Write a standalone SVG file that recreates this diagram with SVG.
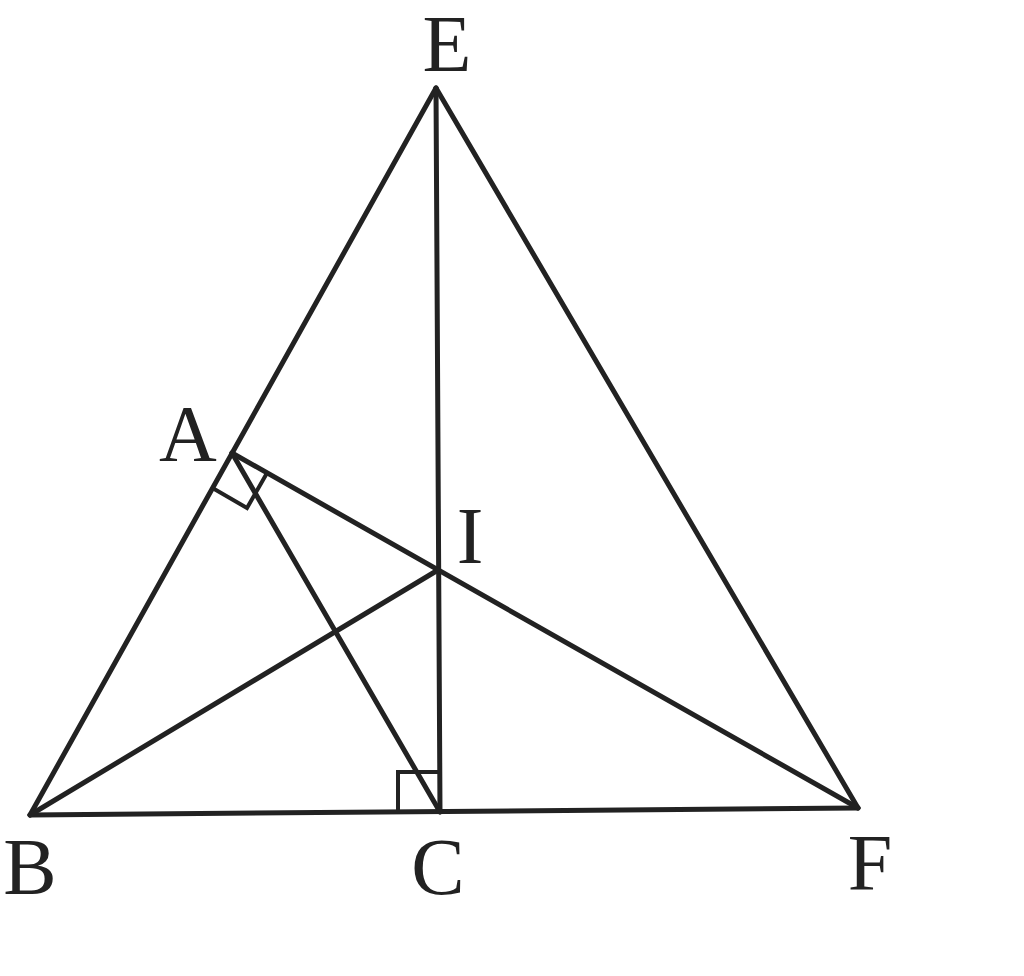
<svg xmlns="http://www.w3.org/2000/svg" width="1024" height="976" viewBox="0 0 1024 976">
<style>
.ln{stroke:#222;stroke-width:5;fill:none;stroke-linecap:round;stroke-linejoin:round}
.mk{stroke:#222;stroke-width:4;fill:none}
.lb{font-family:"Liberation Serif","DejaVu Serif",serif;font-size:80px;fill:#222;text-anchor:middle}
</style>
<rect width="1024" height="976" fill="#ffffff"/>
<g id="connectors">
<line class="ln" x1="436" y1="88" x2="30" y2="815"/>
<line class="ln" x1="436" y1="88" x2="858" y2="808"/>
<line class="ln" x1="436" y1="88" x2="440" y2="812"/>
<line class="ln" x1="30" y1="815" x2="858" y2="808"/>
<line class="ln" x1="232" y1="453" x2="858" y2="808"/>
<line class="ln" x1="30" y1="815" x2="438" y2="570"/>
<line class="ln" x1="232" y1="453" x2="440" y2="812"/>
</g>
<g id="marks">
<polyline class="mk" points="212.5,488 247,508 267,473"/>
<polyline class="mk" points="398,812 398,772 440,772"/>
</g>
<g id="node-E"><text class="lb" x="447" y="71">E</text></g>
<g id="node-A"><text class="lb" x="188" y="461">A</text></g>
<g id="node-I"><text class="lb" x="470" y="563">I</text></g>
<g id="node-B"><text class="lb" x="30" y="894">B</text></g>
<g id="node-C"><text class="lb" x="438" y="894">C</text></g>
<g id="node-F"><text class="lb" x="870" y="890">F</text></g>
</svg>
